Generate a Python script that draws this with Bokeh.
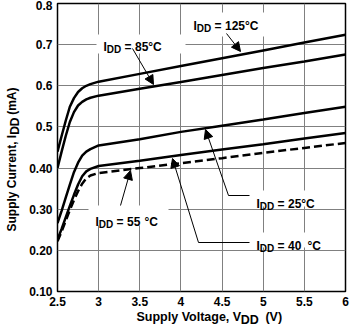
import math
from bokeh.plotting import figure
from bokeh.models import Label, Arrow, NormalHead, FixedTicker, Range1d
from bokeh.embed import file_html
from bokeh.resources import INLINE

# ---------------- data ----------------
voltage = [2.5, 2.55, 2.6, 2.65, 2.7, 2.75, 2.8, 2.85, 2.9, 3.0, 3.5, 4.0, 4.5, 5.0, 5.5, 6.0]
idd_125 = [0.440, 0.478, 0.515, 0.549, 0.570, 0.585, 0.594, 0.600, 0.604, 0.610, 0.629, 0.648, 0.667, 0.686, 0.705, 0.724]
idd_85 = [0.400, 0.440, 0.478, 0.512, 0.536, 0.552, 0.561, 0.567, 0.571, 0.576, 0.593, 0.609, 0.626, 0.643, 0.659, 0.676]
idd_25 = [0.266, 0.296, 0.328, 0.360, 0.390, 0.413, 0.430, 0.440, 0.446, 0.455, 0.470, 0.488, 0.503, 0.518, 0.534, 0.549]
idd_40 = [0.227, 0.252, 0.280, 0.308, 0.335, 0.360, 0.380, 0.392, 0.398, 0.405, 0.418, 0.432, 0.445, 0.458, 0.472, 0.485]
idd_55 = [0.222, 0.246, 0.272, 0.298, 0.322, 0.344, 0.362, 0.375, 0.382, 0.388, 0.400, 0.412, 0.424, 0.437, 0.449, 0.461]

x_ticks = [2.5, 3, 3.5, 4, 4.5, 5, 5.5, 6]
x_tick_labels = ["2.5", "3", "3.5", "4", "4.5", "5", "5.5", "6"]
y_ticks = [0.1, 0.2, 0.3, 0.4, 0.5, 0.6, 0.7, 0.8]
y_tick_labels = ["0.10", "0.20", "0.30", "0.40", "0.5", "0.6", "0.7", "0.8"]

FONT = "Liberation Sans"
NB = "\u00a0"

# ---------------- figure ----------------
p = figure(width=350, height=330, output_backend="svg", toolbar_location=None,
           x_range=Range1d(2.5, 6), y_range=Range1d(0.1, 0.8),
           min_border_left=57, min_border_right=5, min_border_top=3, min_border_bottom=39,
           background_fill_color="white", border_fill_color="white")

p.xaxis.ticker = FixedTicker(ticks=x_ticks)
p.yaxis.ticker = FixedTicker(ticks=y_ticks)
p.xaxis.major_label_overrides = {t: s for t, s in zip(x_ticks, x_tick_labels)}
p.yaxis.major_label_overrides = {t: s for t, s in zip(y_ticks, y_tick_labels)}
for ax in (p.xaxis, p.yaxis):
    ax.axis_line_color = None
    ax.major_tick_line_color = None
    ax.minor_tick_line_color = None
    ax.major_tick_out = 0
    ax.major_tick_in = 0
    ax.minor_tick_out = 0
    ax.major_label_text_font = FONT
    ax.major_label_text_font_style = "bold"
    ax.major_label_text_font_size = "12px"
    ax.major_label_text_color = "black"
    ax.major_label_standoff = 5

p.grid.grid_line_color = "#808080"
p.grid.grid_line_width = 1
p.outline_line_color = "black"
p.outline_line_width = 1.5

# pixel (reference image) -> data helpers for annotation placement
X0, Y0, SX, SY = 57.0, 3.0, 288.0 / 3.5, 288.0 / 0.7
def px2x(px):
    return 2.5 + (px - X0) / SX
def py2y(py):
    return 0.8 - (py - Y0) / SY

# white boxes behind the annotation texts
boxes = [(188, 268, 12, 36), (96, 185, 34, 53), (250, 335, 190, 206),
         (250, 335, 232, 247), (88, 168, 205, 225)]
p.quad(left=[px2x(b[0]) for b in boxes], right=[px2x(b[1]) for b in boxes],
       top=[py2y(b[2]) for b in boxes], bottom=[py2y(b[3]) for b in boxes],
       fill_color="white", line_color=None)

# curves
for ys in (idd_125, idd_85, idd_25, idd_40):
    p.line(voltage, ys, line_color="black", line_width=2.5)
p.line(voltage, idd_55, line_color="black", line_width=2.5, line_dash="8 4")

# text width table (Arial/Liberation Sans Bold, 1/1000 em)
W = {' ': 278, '(': 333, ')': 333, ',': 278, '.': 278, '=': 584, '°': 400,
     'A': 722, 'C': 722, 'D': 722, 'I': 278, 'S': 667, 'V': 667, 'a': 556,
     'e': 556, 'g': 611, 'l': 278, 'm': 889, 'n': 611, 'o': 611, 'p': 611,
     'r': 389, 't': 333, 'u': 611, 'y': 556}
def tw(s, size):
    return sum(W.get(c, 556) for c in s) * size / 1000.0

def lab(x, y, text, size, angle=0.0, place="center", line_height=1.2):
    l = Label(x=x, y=y, text=text, angle=angle, text_font=FONT,
              text_font_style="bold", text_font_size=f"{size}px",
              text_color="black", text_align="left",
              text_baseline="alphabetic", text_line_height=line_height)
    if place == "center":
        p.add_layout(l)
    else:
        p.add_layout(l, place)

def rich(px, base, parts):
    x = px
    for text, size, dy in parts:
        lead = len(text) - len(text.lstrip(' '))
        x += tw(' ' * lead, size)
        t = text.strip(' ')
        lab(px2x(x), py2y(base + dy), t, size)
        x += tw(t, size)

# annotation texts (inside the frame)
rich(193, 25, [("I", 12, 0), ("DD", 10, 3), (" = 125°C", 12, 0)])
rich(103, 46, [("I", 12, 0), ("DD", 10, 3), (" = 85°C", 12, 0)])
rich(256, 203, [("I", 12, 0), ("DD", 10, 3), (" = 25°C", 12, 0)])
rich(256, 245, [("I", 12, 0), ("DD", 10, 3), (" = 40", 12, 0)])
rich(307, 245, [("°C", 12, 0)])
rich(95, 221, [("I", 12, 0), ("DD", 10, 3), (" = 55", 12, 0)])
rich(144, 221, [("°C", 12, 0)])

# axis titles: two-line labels (second line = subscript, ~3 px lower), kept in
# side panels so that they are not clipped by the frame
xt_main, xt_sub = "Supply Voltage, V", "DD"
xt_unit = "(V)"
x_line1 = xt_main + NB * 7 + xt_unit
x_line2 = NB * 30 + xt_sub
lab(px2x(136), py2y(318), x_line1 + "\n" + x_line2, 12.5, place="below", line_height=0.21)

yt_main, yt_sub = "Supply Current, I", "DD"
yt_unit = "(mA)"
y_line1 = yt_main + NB * 6 + yt_unit
y_line2 = NB * 29 + yt_sub
lab(px2x(13), py2y(231), y_line1 + "\n" + y_line2, 12, angle=math.pi / 2,
    place="left", line_height=0.22)

# arrows
def arrow(a, b, head=True):
    kw = dict(x_start=px2x(a[0]), y_start=py2y(a[1]), x_end=px2x(b[0]), y_end=py2y(b[1]),
              line_color="black", line_width=1)
    if head:
        kw["end"] = NormalHead(size=9, fill_color="black", line_color="black", line_width=1)
    else:
        kw["end"] = None
    p.add_layout(Arrow(**kw))

arrow((226, 33), (240, 51))
arrow((132, 48), (153, 84))
arrow((228, 195), (205, 129))
arrow((228, 195), (249, 195), head=False)
arrow((198, 242), (172, 158))
arrow((198, 242), (249, 242), head=False)
arrow((120, 205), (130, 170))

open("out.html", "w").write(file_html(p, INLINE))
